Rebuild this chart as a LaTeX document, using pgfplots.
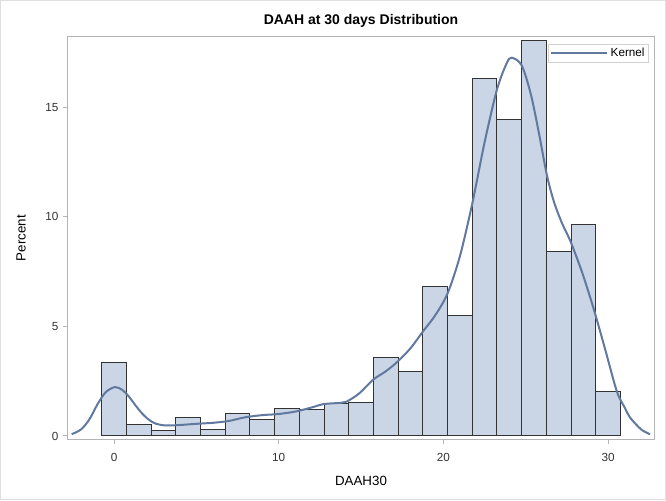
\documentclass[border=0pt]{standalone}
\usepackage{pgfplots}
\pgfplotsset{compat=1.18}
\usepackage{fontspec}
\setmainfont{Liberation Sans}
\definecolor{barfill}{HTML}{CAD5E5}
\definecolor{baredge}{HTML}{333333}
\definecolor{kern}{HTML}{61789F}
\definecolor{framec}{HTML}{B4B4B4}
\definecolor{ticktext}{HTML}{333333}
\begin{document}
\begin{tikzpicture}[x=1pt,y=1pt]
\draw[color=gray!25, line width=0.75pt] (0.375,0.375) rectangle (499.125,374.625);
\begin{axis}[
  at={(50.8pt,45.4pt)}, anchor=south west,
  scale only axis,
  width=439.9pt, height=302.1pt,
  xmin=-2.81, xmax=32.8,
  ymin=-0.16, ymax=18.21,
  axis line style={framec, line width=0.75pt},
  xtick={0,10,20,30},
  ytick={0,5,10,15},
  xtick pos=bottom, ytick pos=left,
  tick align=outside,
  major tick length=3.5pt,
  tick style={framec, line width=0.75pt},
  /pgf/number format/assume math mode=true,
  tick label style={font=\fontsize{8.8}{10}\selectfont, text=ticktext},
  xticklabel style={yshift=-3pt},
  yticklabel style={xshift=0pt},
  title={DAAH at 30 days Distribution},
  title style={font=\fontsize{10.5}{12}\selectfont\bfseries, at={(axis description cs:0.5,1.0415)}, anchor=center, yshift=-6.75pt},
  xlabel={DAAH30},
  xlabel style={font=\fontsize{10}{12}\selectfont, at={(axis description cs:0.5,-0.103)}, anchor=center},
  ylabel={Percent},
  ylabel style={font=\fontsize{10}{12}\selectfont, at={(axis description cs:-0.0796,0.5)}, anchor=center},
  legend style={at={(0.991,0.9826)}, anchor=north east, draw=gray!35, line width=0.6pt, font=\fontsize{8.8}{10}\selectfont, inner sep=1pt, row sep=0pt, text=black},
  legend cell align=left,
  legend image code/.code={\draw[#1, line width=1.5pt] (-6pt,0pt) -- (36pt,0pt);},
  clip=false,
]
\addplot[ybar, bar width=1.5, bar shift=0pt, fill=barfill, draw=baredge, line width=0.75pt, forget plot] coordinates {
(0,3.35) (1.5,0.5) (3,0.26) (4.5,0.84) (6,0.29) (7.5,1.02) (9,0.73) (10.5,1.25) (12,1.2) (13.5,1.49) (15,1.54) (16.5,3.56) (18,2.95) (19.5,6.82) (21,5.5) (22.5,16.29) (24,14.41) (25.5,18.04) (27,8.39) (28.5,9.66) (30,2.05)
};
\addplot[kern, line width=1.5pt, smooth, tension=0.5, mark=none] coordinates {
(-2.57,0.08) (-2.0,0.3) (-1.5,0.75) (-1.0,1.45) (-0.5,2.0) (0.06,2.23) (0.5,2.1) (0.9,1.8) (1.3,1.4) (1.7,1.03) (2.1,0.75) (2.5,0.57) (3.1,0.48) (4.0,0.5) (4.92,0.55) (6.0,0.6) (6.94,0.68) (7.95,0.85) (9.0,0.95) (9.98,1.0) (10.99,1.11) (12.0,1.3) (12.7,1.45) (13.5,1.5) (14.1,1.56) (14.9,1.95) (15.74,2.57) (16.5,2.95) (17.2,3.38) (18.0,4.0) (18.78,4.79) (19.5,5.5) (20.25,6.5) (21.0,8.2) (21.75,10.6) (22.5,13.4) (23.25,15.8) (23.84,17.0) (24.15,17.25) (24.75,16.9) (25.3,15.6) (25.8,13.8) (26.27,11.93) (26.7,10.7) (27.2,9.7) (27.7,8.9) (28.4,7.5) (29.1,5.85) (29.8,4.0) (30.52,2.05) (31.0,1.3) (31.33,0.84) (32.0,0.3) (32.54,0.08)
};
\addlegendentry{Kernel}
\end{axis}
\end{tikzpicture}
\end{document}
